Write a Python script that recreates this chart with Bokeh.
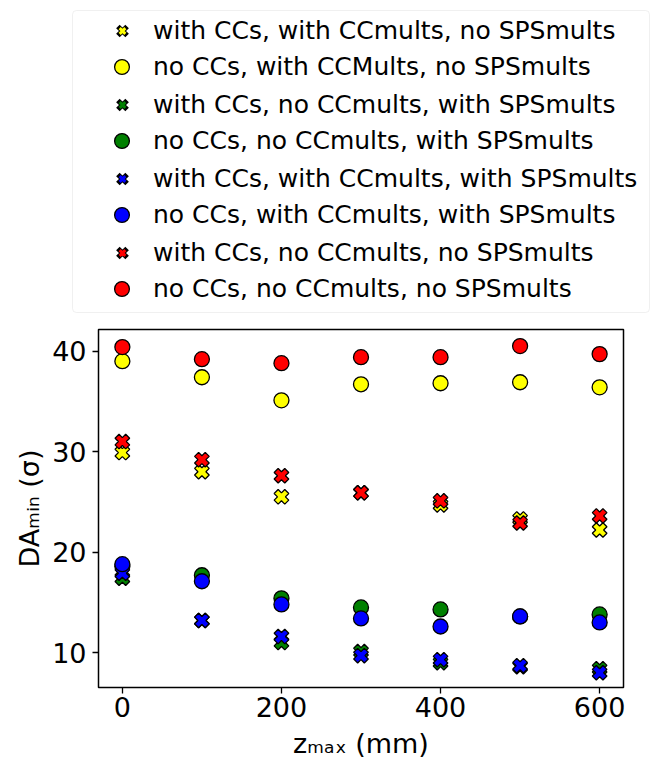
from math import pi

from bokeh.embed import file_html
from bokeh.layouts import column, row
from bokeh.models import BoxAnnotation, FixedTicker, Legend, LegendItem, Range1d
from bokeh.plotting import figure
from bokeh.resources import INLINE

# Scan positions (mm)
z_max = [0, 100, 200, 300, 400, 500, 600]

# Minimum dynamic aperture (sigma) for each configuration
da_cc_ccm_nosps = [29.9, 28.0, 25.5, 25.9, 24.7, 23.3, 22.2]
da_nocc_ccm_nosps = [39.0, 37.4, 35.1, 36.7, 36.8, 36.9, 36.4]
da_cc_noccm_sps = [17.4, 13.2, 11.0, 10.1, 9.0, 8.6, 8.4]
da_nocc_noccm_sps = [18.6, 17.7, 15.4, 14.5, 14.3, 13.6, 13.8]
da_cc_ccm_sps = [17.9, 13.2, 11.6, 9.7, 9.3, 8.7, 8.0]
da_nocc_ccm_sps = [18.8, 17.1, 14.8, 13.4, 12.6, 13.6, 13.0]
da_cc_noccm_nosps = [31.0, 29.2, 27.6, 25.9, 25.1, 22.9, 23.6]
da_nocc_noccm_nosps = [40.4, 39.2, 38.8, 39.4, 39.4, 40.5, 39.7]

series_labels = [
    "with CCs, with CCmults, no SPSmults",
    "no CCs, with CCMults, no SPSmults",
    "with CCs, no CCmults, with SPSmults",
    "no CCs, no CCmults, with SPSmults",
    "with CCs, with CCmults, with SPSmults",
    "no CCs, with CCmults, with SPSmults",
    "with CCs, no CCmults, no SPSmults",
    "no CCs, no CCmults, no SPSmults",
]
series_values = [
    da_cc_ccm_nosps, da_nocc_ccm_nosps,
    da_cc_noccm_sps, da_nocc_noccm_sps,
    da_cc_ccm_sps, da_nocc_ccm_sps,
    da_cc_noccm_nosps, da_nocc_noccm_nosps,
]
series_colors = ["yellow", "yellow", "green", "green", "blue", "blue", "red", "red"]
series_with_cc = [True, False, True, False, True, False, True, False]

x_title = "z\u2098\u2090\u2093 (mm)"
y_title = "DA\u2098\u1d62\u2099 (\u03c3)"

FONT = "DejaVu Sans"
TOTAL_W, TOTAL_H = 651, 761
LEGEND_H = 320               # strip on top holding the legend
MAIN_H = TOTAL_H - LEGEND_H

# ---- main scatter panel -------------------------------------------------
p = figure(
    width=TOTAL_W, height=MAIN_H,
    output_backend="svg", toolbar_location=None,
    x_range=Range1d(-30, 630), y_range=Range1d(6.53, 42.15),
    min_border_left=98, min_border_right=28,
    min_border_top=9, min_border_bottom=73,
    background_fill_color="white", border_fill_color="white",
)
p.grid.visible = False
p.outline_line_color = "black"
p.outline_line_width = 1.5

p.xaxis.ticker = FixedTicker(ticks=[0, 200, 400, 600])
p.yaxis.ticker = FixedTicker(ticks=[10, 20, 30, 40])
p.axis.axis_line_color = None
p.axis.major_tick_out = 6
p.axis.major_tick_in = 0
p.axis.minor_tick_out = 0
p.axis.minor_tick_in = 0
p.axis.major_tick_line_color = "black"
p.axis.major_tick_line_width = 1.3
p.axis.major_label_text_font = FONT
p.axis.major_label_text_font_size = "27px"
p.axis.major_label_text_color = "black"
p.xaxis.major_label_standoff = 3
p.yaxis.major_label_standoff = 6

p.xaxis.axis_label = x_title
p.yaxis.axis_label = y_title
p.axis.axis_label_text_font = FONT
p.axis.axis_label_text_font_size = "27px"
p.axis.axis_label_text_font_style = "normal"
p.axis.axis_label_text_color = "black"
p.xaxis.axis_label_standoff = 8
p.yaxis.axis_label_standoff = 4

for vals, color, with_cc in zip(series_values, series_colors, series_with_cc):
    if with_cc:
        p.scatter(z_max, vals, marker="plus", angle=pi / 4, size=15,
                  fill_color=color, line_color="black", line_width=1.3)
    else:
        p.scatter(z_max, vals, marker="circle", size=15,
                  fill_color=color, line_color="black", line_width=1.3)

# ---- legend strip above the axes ------------------------------------------
# The series are drawn again into a view window that keeps them off-screen,
# so only their legend entries show.
fl = figure(
    width=TOTAL_W, height=LEGEND_H, output_backend="svg", toolbar_location=None,
    x_range=Range1d(-3000, -2000), y_range=Range1d(-3000, -2000),
    x_axis_type=None, y_axis_type=None, min_border=0,
    background_fill_color="white", border_fill_color="white",
)
fl.grid.visible = False
fl.outline_line_color = None

legend_box = BoxAnnotation(
    left=72, right=649, top=310, bottom=8,
    left_units="screen", right_units="screen", top_units="screen", bottom_units="screen",
    fill_color="white", fill_alpha=0.8, line_color="#cccccc", line_width=1,
)
if "border_radius" in BoxAnnotation.properties():
    legend_box.border_radius = 4
fl.add_layout(legend_box)

cross_items, circle_items = [], []
for label, vals, color, with_cc in zip(series_labels, series_values, series_colors, series_with_cc):
    if with_cc:
        edge = fl.scatter(z_max, vals, marker="x", size=8, line_color="black",
                          line_width=5, line_cap="square")
        body = fl.scatter(z_max, vals, marker="x", size=8, line_color=color,
                          line_width=3)
        cross_items.append(LegendItem(label=label, renderers=[edge, body]))
    else:
        r = fl.scatter(z_max, vals, marker="circle", size=15,
                       fill_color=color, line_color="black", line_width=1.3)
        circle_items.append(LegendItem(label=label, renderers=[r]))

legend_style = dict(
    margin=0, padding=0, glyph_height=37, label_height=37, spacing=37,
    label_text_font=FONT, label_text_font_size="25px", label_text_color="black",
    border_line_color=None, background_fill_alpha=0,
)
fl.add_layout(Legend(items=cross_items, location=(112, 49.5),
                     glyph_width=20, label_standoff=21, **legend_style))
fl.add_layout(Legend(items=circle_items, location=(103, 12.6),
                     glyph_width=37, label_standoff=13, **legend_style))

# The scatter panel sits in its own row so the two strips keep independent frames.
layout = column(fl, row(p, spacing=0), spacing=0)
open("out.html", "w").write(file_html(layout, INLINE))
